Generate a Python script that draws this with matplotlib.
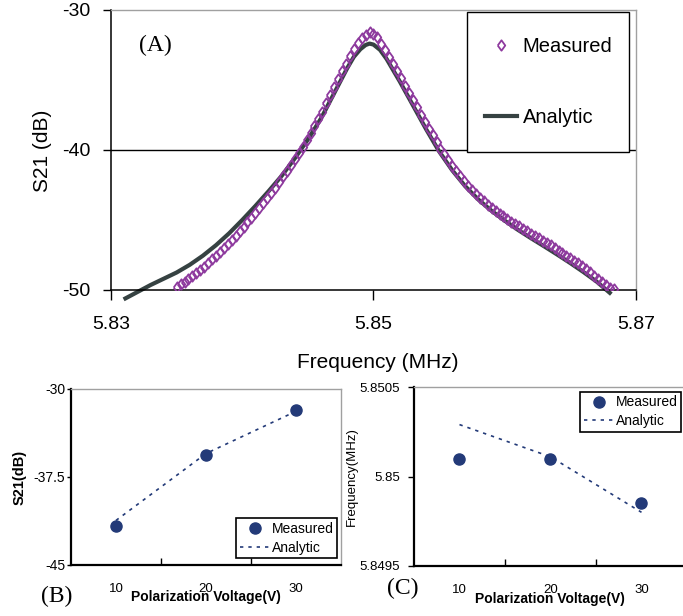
import numpy as np
import matplotlib
matplotlib.use("Agg")
import matplotlib.pyplot as plt
from matplotlib.patches import Rectangle

plt.rcParams['font.family'] = ['Liberation Sans', 'DejaVu Sans']

# ---- panel A: S21 vs frequency ----
meas_freq = [
    5.8350, 5.8353, 5.8356, 5.8359, 5.8362, 5.8365, 5.8368, 5.8371,
    5.8374, 5.8377, 5.8380, 5.8383, 5.8386, 5.8389, 5.8392, 5.8395,
    5.8398, 5.8401, 5.8404, 5.8407, 5.8410, 5.8413, 5.8416, 5.8419,
    5.8422, 5.8425, 5.8428, 5.8431, 5.8434, 5.8437, 5.8440, 5.8443,
    5.8446, 5.8449, 5.8452, 5.8455, 5.8458, 5.8461, 5.8464, 5.8467,
    5.8470, 5.8473, 5.8476, 5.8479, 5.8482, 5.8485, 5.8488, 5.8491,
    5.8494, 5.8497, 5.8500, 5.8503, 5.8506, 5.8509, 5.8512, 5.8515,
    5.8518, 5.8521, 5.8524, 5.8527, 5.8530, 5.8533, 5.8536, 5.8539,
    5.8542, 5.8545, 5.8548, 5.8551, 5.8554, 5.8557, 5.8560, 5.8563,
    5.8566, 5.8569, 5.8572, 5.8575, 5.8578, 5.8581, 5.8584, 5.8587,
    5.8590, 5.8593, 5.8596, 5.8599, 5.8602, 5.8605, 5.8608, 5.8611,
    5.8614, 5.8617, 5.8620, 5.8623, 5.8626, 5.8629, 5.8632, 5.8635,
    5.8638, 5.8641, 5.8644, 5.8647, 5.8650, 5.8653, 5.8656, 5.8659,
    5.8662, 5.8665, 5.8668, 5.8671, 5.8674, 5.8677, 5.8680, 5.8683,
]
meas_db = [
    -49.80, -49.60, -49.41, -49.21, -49.01, -48.80, -48.59, -48.36,
    -48.09, -47.82, -47.55, -47.27, -46.98, -46.70, -46.41, -46.11,
    -45.81, -45.49, -45.16, -44.83, -44.50, -44.14, -43.78, -43.42,
    -43.05, -42.68, -42.30, -41.89, -41.47, -41.07, -40.65, -40.20,
    -39.75, -39.30, -38.81, -38.30, -37.79, -37.25, -36.67, -36.08,
    -35.50, -34.93, -34.36, -33.83, -33.30, -32.80, -32.38, -32.02,
    -31.75, -31.60, -31.68, -31.95, -32.40, -32.85, -33.35, -33.87,
    -34.38, -34.88, -35.40, -35.93, -36.45, -36.96, -37.47, -37.98,
    -38.47, -38.95, -39.43, -39.90, -40.32, -40.73, -41.15, -41.52,
    -41.88, -42.23, -42.55, -42.86, -43.15, -43.42, -43.67, -43.91,
    -44.13, -44.34, -44.54, -44.74, -44.93, -45.11, -45.29, -45.46,
    -45.63, -45.80, -45.97, -46.14, -46.31, -46.48, -46.65, -46.82,
    -47.00, -47.18, -47.36, -47.54, -47.72, -47.91, -48.10, -48.30,
    -48.51, -48.74, -48.98, -49.21, -49.42, -49.63, -49.84, -49.95,
]
ana_freq = [
    5.8311, 5.832, 5.833, 5.834, 5.835, 5.836, 5.837, 5.838, 5.839,
    5.840, 5.841, 5.842, 5.843, 5.844, 5.845, 5.846, 5.847, 5.848,
    5.8485, 5.849, 5.8494, 5.8497, 5.850, 5.8505, 5.851, 5.8515, 5.852,
    5.853, 5.854, 5.855, 5.856, 5.857, 5.858, 5.859, 5.860, 5.861,
    5.862, 5.863, 5.864, 5.865, 5.866, 5.867, 5.868,
]
ana_db = [
    -50.6, -50.15, -49.65, -49.2, -48.75, -48.2, -47.55, -46.8, -45.95,
    -45.0, -44.0, -42.95, -41.85, -40.6, -39.25, -37.75, -35.95, -34.15,
    -33.35, -32.8, -32.5, -32.4, -32.47, -32.85, -33.5, -34.3, -35.1,
    -36.8, -38.5, -40.1, -41.45, -42.6, -43.55, -44.35, -45.05, -45.7,
    -46.3, -46.88, -47.47, -48.08, -48.72, -49.4, -50.2,
]

# ---- panels B and C: vs polarization voltage ----
volts = [10, 20, 30]
s21_meas = [-41.7, -35.6, -31.8]
s21_ana = [-41.2, -35.5, -31.9]
freq_meas = [5.85010, 5.85010, 5.84985]
freq_ana = [5.85029, 5.85011, 5.84980]

purple = '#8e3a9e'
slate = '#364242'
navy = '#233a78'
grey = '#a0a0a0'

# slightly tall open diamond, like the spreadsheet marker
diamond = [(-0.72, 0), (0, 1), (0.72, 0), (0, -1), (-0.72, 0)]

W, H = 683, 616
fig = plt.figure(figsize=(W / 100, H / 100), dpi=100)


def box(l, t, r, b):
    return [l / W, 1 - b / H, (r - l) / W, (b - t) / H]


def fx(x):
    return x / W


def fy(y):
    return 1 - y / H


# ---------------- A ----------------
axA = fig.add_axes(box(111, 10, 636, 290))
lA, = axA.plot(ana_freq, ana_db, color=slate, lw=3, clip_on=False, zorder=2,
               label='Analytic')
mA, = axA.plot(meas_freq, meas_db, ls='none', marker=diamond, ms=7.5, mfc='none',
               mec=purple, mew=1.3, zorder=3, label='Measured')
axA.set_xlim(5.83, 5.87)
axA.set_ylim(-50, -30)
axA.set_xticks([5.83, 5.85, 5.87])
axA.set_xticklabels(['5.83', '5.85', '5.87'])
axA.set_yticks([-30, -40, -50])
axA.set_yticklabels(['-30', '-40', '-50'])
axA.tick_params(axis='x', direction='out', length=7, width=1, pad=12, labelsize=14)
axA.tick_params(axis='y', direction='out', length=6, width=1, pad=9, labelsize=14)
axA.yaxis.grid(True, color='black', lw=1)
for yv, gl in zip(axA.get_yticks(), axA.get_ygridlines()):
    if yv != -40:
        gl.set_visible(False)
axA.set_axisbelow(True)
for s in ['left', 'bottom']:
    axA.spines[s].set_color('black')
    axA.spines[s].set_linewidth(1.1)
for s in ['top', 'right']:
    axA.spines[s].set_color(grey)
    axA.spines[s].set_linewidth(1)

# legend box drawn separately so its size matches the reference
axA.add_patch(Rectangle((fx(467), fy(152)), fx(629) - fx(467), fy(12) - fy(152),
                        transform=fig.transFigure, facecolor='white',
                        edgecolor='black', lw=1, zorder=4, clip_on=False))
legA = axA.legend([mA, lA], ['Measured', 'Analytic'], loc='center',
                  bbox_to_anchor=(fx(549), fy(82)), bbox_transform=fig.transFigure,
                  borderaxespad=0, fontsize=14.5, numpoints=1, handlelength=1.55,
                  handletextpad=0.3, labelspacing=2.55, borderpad=0,
                  frameon=False)
legA.set_zorder(5)
fig.text(fx(155), fy(45), '(A)', family='Liberation Serif', fontsize=17,
         ha='center', va='center')
fig.text(fx(378), fy(363), 'Frequency (MHz)', fontsize=15, ha='center', va='center')
fig.text(fx(43), fy(151), 'S21 (dB)', fontsize=15, rotation=90,
         ha='center', va='center')


def small_axes(ax):
    ax.set_xlim(5, 35)
    ax.set_xticks([15, 25])
    ax.set_xticklabels([])
    ax.set_xticks(volts, minor=True)
    ax.set_xticklabels([str(v) for v in volts], minor=True)
    ax.tick_params(axis='x', which='major', direction='in', length=5, width=1)
    ax.tick_params(axis='x', which='minor', length=0, pad=13, labelsize=9.5)
    for s in ['left', 'bottom']:
        ax.spines[s].set_color('black')
        ax.spines[s].set_linewidth(1.6)
    for s in ['top', 'right']:
        ax.spines[s].set_color(grey)
        ax.spines[s].set_linewidth(1)


# ---------------- B ----------------
axB = fig.add_axes(box(71, 389, 341, 565))
mB, = axB.plot(volts, s21_meas, ls='none', marker='o', ms=8, color=navy, zorder=3)
lB, = axB.plot(volts, s21_ana, color=navy, lw=1.2, dashes=(2, 3), zorder=2)
small_axes(axB)
axB.set_ylim(-45, -30)
axB.set_yticks([-30, -37.5, -45])
axB.set_yticklabels(['-30', '-37.5', '-45'])
axB.tick_params(axis='y', direction='out', length=3, width=1, pad=1, labelsize=10)
legB = axB.legend([mB, lB], ['Measured', 'Analytic'], loc='lower right',
                  bbox_to_anchor=(fx(337), fy(558)), bbox_transform=fig.transFigure,
                  borderaxespad=0, fontsize=10, numpoints=1, handlelength=2.2,
                  handletextpad=0.1, labelspacing=0.35, borderpad=0.25,
                  fancybox=False, framealpha=1, edgecolor='black')
legB.get_frame().set_linewidth(1.2)
fig.text(fx(20), fy(477), 'S21(dB)', fontsize=10.5, weight='bold', rotation=90,
         ha='center', va='center')
fig.text(fx(206), fy(597), 'Polarization Voltage(V)', fontsize=10, weight='bold',
         ha='center', va='center')
fig.text(fx(57), fy(596), '(B)', family='Liberation Serif', fontsize=17,
         ha='center', va='center')

# ---------------- C ----------------
axC = fig.add_axes(box(414, 387, 687, 566))
mC, = axC.plot(volts, freq_meas, ls='none', marker='o', ms=8, color=navy, zorder=3)
lC, = axC.plot(volts, freq_ana, color=navy, lw=1.2, dashes=(2, 3), zorder=2)
small_axes(axC)
axC.set_ylim(5.8495, 5.8505)
axC.set_yticks([5.8505, 5.85, 5.8495])
axC.set_yticklabels(['5.8505', '5.85', '5.8495'])
axC.tick_params(axis='y', direction='out', length=4, width=1, pad=6, labelsize=9.5)
legC = axC.legend([mC, lC], ['Measured', 'Analytic'], loc='upper right',
                  bbox_to_anchor=(fx(681), fy(392)), bbox_transform=fig.transFigure,
                  borderaxespad=0, fontsize=10, numpoints=1, handlelength=2.2,
                  handletextpad=0.1, labelspacing=0.35, borderpad=0.25,
                  fancybox=False, framealpha=1, edgecolor='black')
legC.get_frame().set_linewidth(1.2)
fig.text(fx(352), fy(477), 'Frequency(MHz)', fontsize=9.5, rotation=90,
         ha='center', va='center')
fig.text(fx(550), fy(599), 'Polarization Voltage(V)', fontsize=10, weight='bold',
         ha='center', va='center')
fig.text(fx(403), fy(588), '(C)', family='Liberation Serif', fontsize=17,
         ha='center', va='center')

fig.savefig('out.png', dpi=100)
